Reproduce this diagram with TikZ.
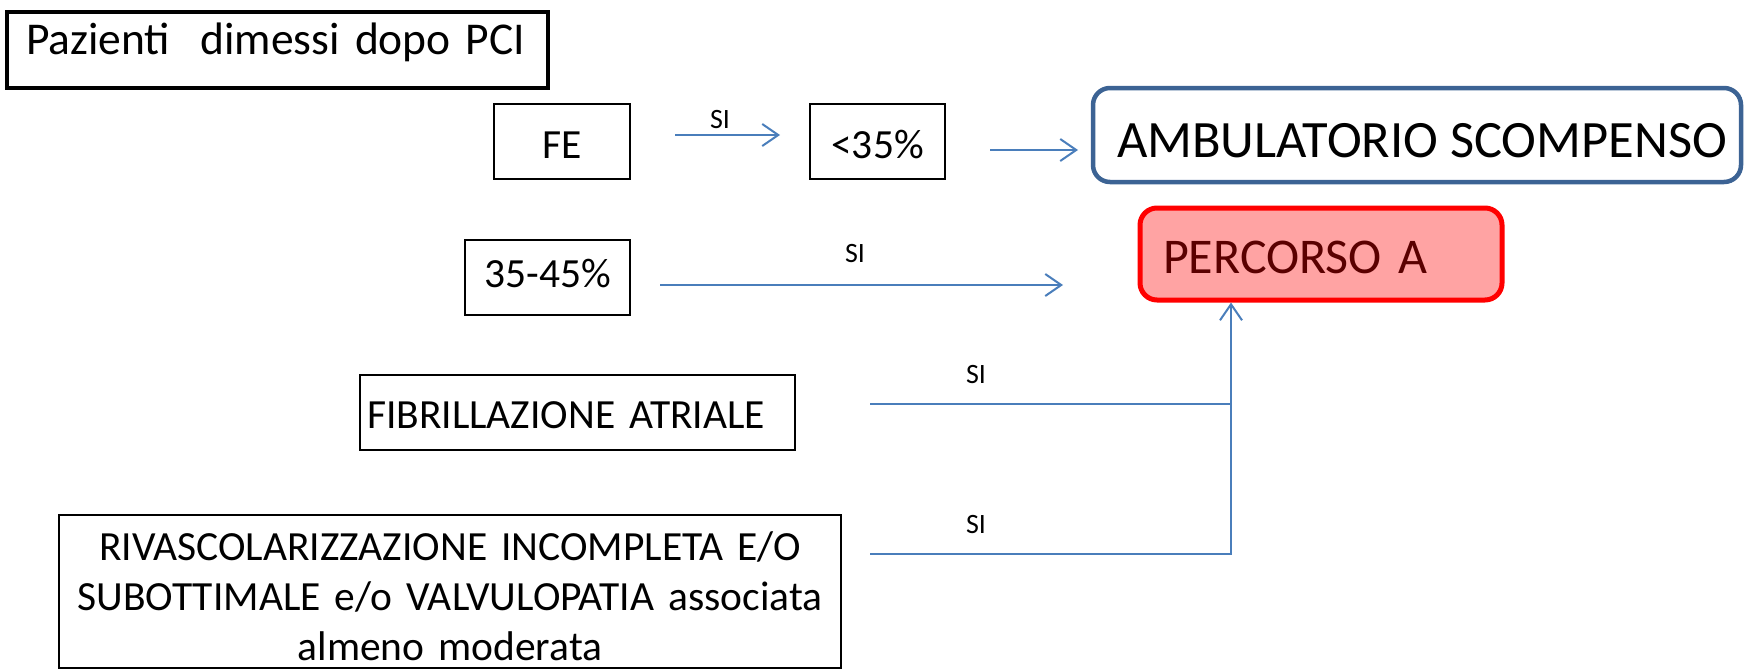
\documentclass[tikz,border=0pt]{standalone}
\usepackage{fontspec}
\setmainfont{Carlito}
\usetikzlibrary{arrows.meta}
\definecolor{lineblue}{HTML}{4A7EBB}
\definecolor{ambblue}{HTML}{3C6394}
\definecolor{pfill}{HTML}{FFA3A3}
\definecolor{pborder}{HTML}{FF0000}
\definecolor{ptext}{HTML}{5A0000}
\begin{document}
\begin{tikzpicture}[x=1pt,y=-1pt,
  box/.style={draw=black, line width=2pt, rectangle, inner sep=0pt},
  conn/.style={draw=lineblue, line width=2pt},
  arr/.style={conn, -{Straight Barb[length=16pt,width=22pt]}},
  silab/.style={font=\fontsize{28}{34}\selectfont, inner sep=0pt, anchor=base},
  midfont/.style={font=\fontsize{41.5}{50}\selectfont}
]
\useasboundingbox (0,0) rectangle (1748,670);

% title
\node[box, line width=4pt, minimum width=541pt, minimum height=76pt,
      inner xsep=19pt, text width=503pt, align=left,
      text height=30pt, text depth=22pt,
      font=\fontsize{45.5}{54}\selectfont] (title) at (277.5,50) {Pazienti\ \ dimessi dopo PCI};

% FE row
\node[box, midfont, minimum width=136pt, minimum height=75pt,
      text height=33pt, text depth=0pt] (fe) at (562,141.5) {FE};
\node[box, midfont, minimum width=135pt, minimum height=75pt,
      text height=33pt, text depth=0pt] (lt) at (877.5,141.5) {<35\%};

% AMBULATORIO
\node[draw=ambblue, line width=4.5pt, rounded corners=17pt, inner sep=0pt,
      minimum width=648pt, minimum height=94pt,
      text height=44pt, text depth=0pt,
      font=\fontsize{52.5}{60}\selectfont] (amb) at (1417,135) {\hspace*{10pt}AMBULATORIO SCOMPENSO};

% PERCORSO A
\node[draw=pborder, fill=pfill, line width=5pt, rounded corners=17pt,
      minimum width=362pt, minimum height=92pt,
      inner xsep=23pt, inner ysep=0pt, text width=316pt, align=left,
      text height=38pt, text depth=0pt, text=ptext,
      font=\fontsize{50}{58}\selectfont] (perc) at (1321,254) {PERCORSO A};

% 35-45%
\node[box, midfont, minimum width=165pt, minimum height=75pt,
      text height=19pt, text depth=0pt] (mid) at (547.5,277.5) {35-45\%};

% FIBRILLAZIONE
\node[box, midfont, minimum width=435pt, minimum height=75pt,
      inner xsep=7pt, text width=421pt, align=left,
      text height=31pt, text depth=0pt] (fa) at (577.5,412.5) {FIBRILLAZIONE ATRIALE};

% RIVASCOLARIZZAZIONE
\node[box, midfont, minimum width=782pt, minimum height=153pt,
      text width=770pt, align=center,
      text height=37pt, text depth=100pt] (riv) at (450,591.5)
  {RIVASCOLARIZZAZIONE INCOMPLETA E/O\\SUBOTTIMALE e/o VALVULOPATIA associata\\almeno moderata};

% connector coordinates
\coordinate (a1s) at (675,135);
\coordinate (a1e) at (780,135);
\coordinate (a2s) at (990,150);
\coordinate (a2e) at (1078,150);
\coordinate (a3s) at (660,285);
\coordinate (a3e) at (1063,285);
\coordinate (fas) at (870,404);
\coordinate (jf) at (1231,404);
\coordinate (rvs) at (870,554);
\coordinate (jr) at (1231,554);

\draw[arr] (a1s) -- (a1e);
\draw[arr] (a2s) -- (a2e);
\draw[arr] (a3s) -- (a3e);
\draw[conn] (fas) -- (jf);
\draw[arr] (rvs) -- (jr) -- (perc.south -| jr);

% SI labels
\node[silab] (si1) at (720,128) {SI};
\node[silab] (si2) at (855,262) {SI};
\node[silab] (si3) at (976,383) {SI};
\node[silab] (si4) at (976,533) {SI};
\end{tikzpicture}
\end{document}
